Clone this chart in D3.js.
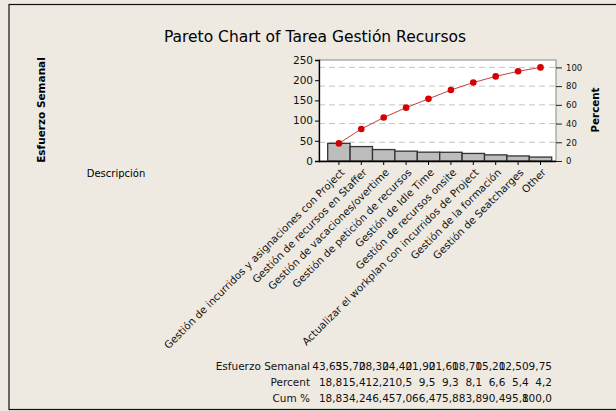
<!DOCTYPE html>
<html><head><meta charset="utf-8">
<script src="https://cdn.jsdelivr.net/npm/d3@7"></script>
<style>html,body{margin:0;padding:0;background:#EEEAE2}svg{display:block}</style>
</head><body>
<svg id="c" width="616" height="411"></svg>
<script>
const categories = [
  "Gestión de incurridos y asignaciones con Project",
  "Gestión de recursos en Staffer",
  "Gestión de vacaciones/overtime",
  "Gestión de petición de recursos",
  "Gestión de Idle Time",
  "Gestión de recursos onsite",
  "Actualizar el workplan con incurridos de Project",
  "Gestión de la formación",
  "Gestión de Seatcharges",
  "Other"
];
const counts = [43.65, 35.70, 28.30, 24.40, 21.90, 21.60, 18.70, 15.20, 12.50, 9.75];
const percents = [18.8, 15.4, 12.2, 10.5, 9.5, 9.3, 8.1, 6.6, 5.4, 4.2];
const cumPercents = [18.8, 34.2, 46.4, 57.0, 66.4, 75.8, 83.8, 90.4, 95.8, 100.0];
const leftTicks = [0, 50, 100, 150, 200, 250];
const rightTicks = [0, 20, 40, 60, 80, 100];
const rowLabels = ["Esfuerzo Semanal", "Percent", "Cum %"];
const titleText = "Pareto Chart of Tarea Gestión Recursos";

const svg = d3.select("#c");
const FONT = "'DejaVu Sans', Verdana, sans-serif";
const bg = "#EEEAE2";

// outer frame
svg.append("rect").attr("x", 0).attr("y", 0).attr("width", 616).attr("height", 411).attr("fill", bg);
svg.append("rect").attr("x", 9).attr("y", 4.5).attr("width", 620).attr("height", 405)
  .attr("fill", "none").attr("stroke", "#111").attr("stroke-width", 1.2);

const P = {l: 319, r: 556, t: 60, b: 161};
const total = d3.sum(counts);

const x = d3.scaleBand().domain(categories).range([P.l + 8.7, P.r - 4.3]).padding(0);
const y = d3.scaleLinear().domain([0, 250]).range([P.b, P.t]);
const yp = d3.scaleLinear().domain([0, 100]).range([P.b, y(total)]);

// plot background
svg.append("rect").attr("x", P.l).attr("y", P.t).attr("width", P.r - P.l).attr("height", P.b - P.t)
  .attr("fill", "#fff").attr("stroke", "#8a8a8a").attr("stroke-width", 1);

// gridlines (percent)
svg.append("g").selectAll("line").data(rightTicks.filter(d => d > 0)).join("line")
  .attr("x1", P.l).attr("x2", P.r).attr("y1", d => yp(d)).attr("y2", d => yp(d))
  .attr("stroke", "#c4c4c4").attr("stroke-dasharray", "6,4").attr("stroke-width", 1);

// bars
svg.append("g").selectAll("rect").data(categories).join("rect")
  .attr("x", d => x(d)).attr("width", x.bandwidth())
  .attr("y", (d, i) => y(counts[i])).attr("height", (d, i) => P.b - y(counts[i]))
  .attr("fill", "#BDBDBD").attr("stroke", "#333").attr("stroke-width", 1.3);

// cumulative line
const cx = d => x(d) + x.bandwidth() / 2;
svg.append("path").datum(categories)
  .attr("d", d3.line().x(d => cx(d)).y((d, i) => yp(cumPercents[i])))
  .attr("fill", "none").attr("stroke", "#C84040").attr("stroke-width", 1);
svg.append("g").selectAll("circle").data(categories).join("circle")
  .attr("cx", d => cx(d)).attr("cy", (d, i) => yp(cumPercents[i])).attr("r", 3.3)
  .attr("fill", "#D60000");

// left axis
const gL = svg.append("g").attr("transform", `translate(${P.l},0)`)
  .call(d3.axisLeft(y).tickValues(leftTicks).tickSize(4).tickPadding(2));
gL.select(".domain").attr("stroke", "#000").attr("stroke-width", 1.3);
gL.selectAll(".tick line").attr("stroke", "#000");
gL.selectAll("text").attr("font-family", FONT).attr("font-size", 10.5).attr("fill", "#111");

// right axis
const gR = svg.append("g").attr("transform", `translate(${P.r},0)`)
  .call(d3.axisRight(yp).tickValues(rightTicks).tickSize(6).tickPadding(4));
gR.select(".domain").attr("stroke", "#777").attr("d", `M0.5,${P.b}V${yp(100) - 0}`).remove();
gR.selectAll(".tick line").attr("stroke", "#222");
gR.selectAll("text").attr("font-family", FONT).attr("font-size", 8.5).attr("fill", "#111");

// bottom axis
const gB = svg.append("g").attr("transform", `translate(0,${P.b})`)
  .call(d3.axisBottom(x).tickSize(4).tickFormat(""));
gB.select(".domain").attr("stroke", "#000").attr("stroke-width", 1.3).attr("d", `M${P.l},0.5H${P.r}`);
gB.selectAll(".tick line").attr("stroke", "#000");

// x labels rotated
const lab = svg.append("g").selectAll("text").data(categories).join("text")
  .attr("transform", d => `translate(${cx(d) + 1},${P.b + 7}) rotate(-45)`)
  .attr("text-anchor", "end").attr("dy", "0.7em")
  .attr("font-family", FONT).attr("font-size", 10).attr("fill", "#111")
  .text(d => d);
// fit font so the longest label spans ~250px
const w0 = lab.nodes()[0].getComputedTextLength();
const fs = 10 * 250 / w0;
lab.attr("font-size", fs);

// title
const t = svg.append("text").attr("x", 315).attr("y", 41.5).attr("text-anchor", "middle")
  .attr("font-family", FONT).attr("font-size", 15.5).attr("fill", "#000").text(titleText);
if (t.node().getComputedTextLength() > 314) t.attr("textLength", 314).attr("lengthAdjust", "spacingAndGlyphs");

// axis titles
svg.append("text").attr("transform", "translate(45,110) rotate(-90)").attr("text-anchor", "middle")
  .attr("font-family", FONT).attr("font-weight", "bold").attr("font-size", 10.5).text("Esfuerzo Semanal");
svg.append("text").attr("transform", "translate(599,110) rotate(-90)").attr("text-anchor", "middle")
  .attr("font-family", FONT).attr("font-weight", "bold").attr("font-size", 10.3).text("Percent");
svg.append("text").attr("x", 116).attr("y", 177).attr("text-anchor", "middle")
  .attr("font-family", FONT).attr("font-size", 10).text("Descripción");

// table
const fmt = (v, d) => v.toFixed(d).replace(".", ",");
const rows = [counts.map(v => fmt(v, 2)), percents.map(v => fmt(v, 1)), cumPercents.map(v => fmt(v, 1))];
const colW = 23.3, lastR = 552;
const rowY = [370, 386, 402];
const tab = svg.append("g").attr("font-family", FONT).attr("font-size", 10.5).attr("fill", "#111");
rowLabels.forEach((l, r) => {
  tab.append("text").attr("x", 310).attr("y", rowY[r]).attr("text-anchor", "end").text(l);
  tab.selectAll(null).data(rows[r]).join("text")
    .attr("x", (d, i) => lastR - (rows[r].length - 1 - i) * colW)
    .attr("y", rowY[r]).attr("text-anchor", "end").text(d => d);
});
</script>
</body></html>
